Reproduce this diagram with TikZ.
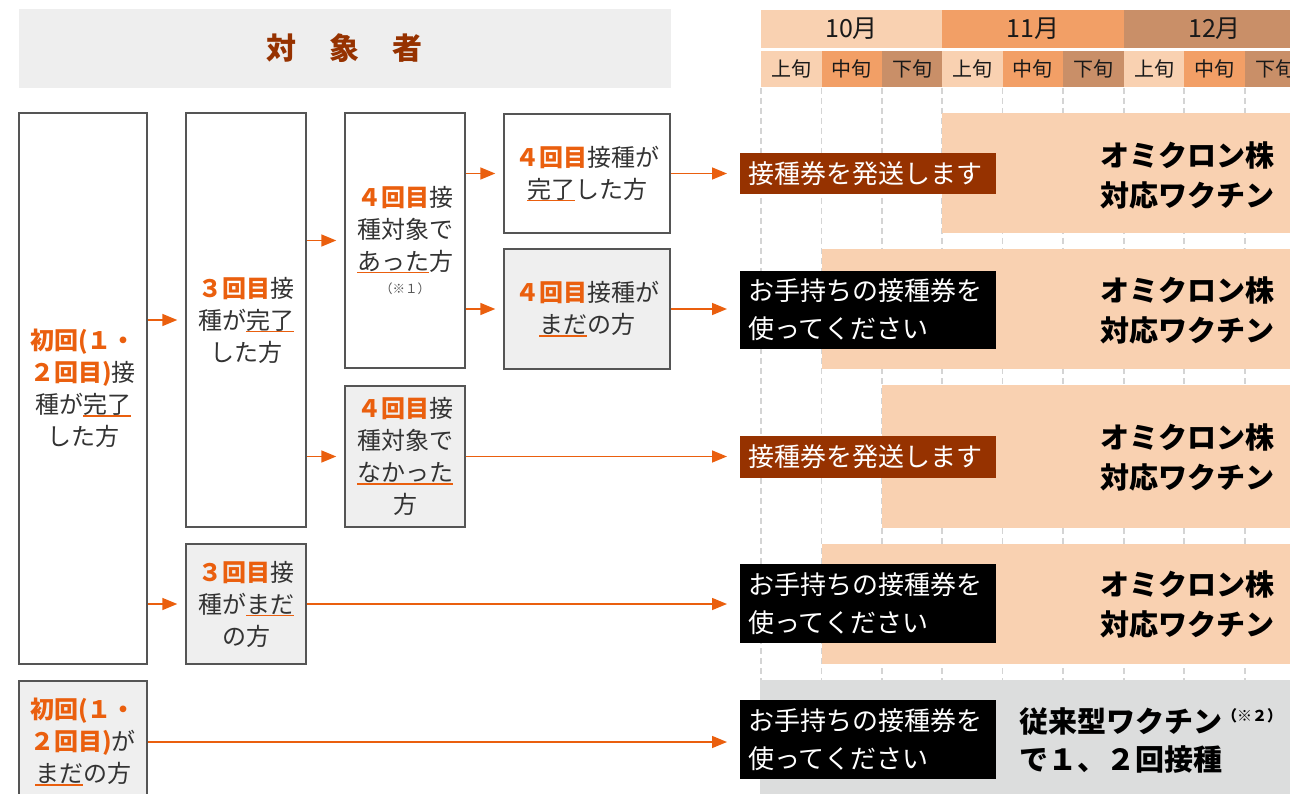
\documentclass[tikz,border=0pt]{standalone}
\usepackage{fontspec}
\setmainfont{Noto Sans CJK JP}
\usetikzlibrary{arrows.meta}
\definecolor{acc}{HTML}{EA5F0E}
\definecolor{peach}{HTML}{F9D1B1}
\definecolor{midor}{HTML}{F29F66}
\definecolor{dkor}{HTML}{C98F68}
\definecolor{brn}{HTML}{963200}
\definecolor{txt}{HTML}{333333}
\definecolor{bord}{HTML}{555555}
\definecolor{boxgray}{HTML}{EFEFEF}
\definecolor{hdgray}{HTML}{EEEEEE}
\definecolor{bargray}{HTML}{DCDDDD}
\definecolor{dashc}{HTML}{D4D4D4}
\newcommand\myul[1]{\leavevmode\setbox0\hbox{#1}\rlap{\textcolor{acc}{\rule[-3pt]{\wd0}{1.5pt}}}\box0}
\newcommand\hl[1]{\textcolor{acc}{\bfseries #1}}
\tikzset{
  box/.style={draw=bord, line width=1.4pt, fill=white, inner sep=0pt, align=center,
    text=txt, font=\fontsize{24}{32}\selectfont},
  gbox/.style={box, fill=boxgray},
  arr/.style={draw=acc, line width=1.5pt, -{Triangle[length=15pt,width=12pt]}},
  lab/.style={anchor=west, inner xsep=8pt, inner ysep=0pt, text=white, align=left,
    text width=240pt, font=\fontsize{26}{38}\selectfont},
  bartxt/.style={inner sep=0pt, text=black, font=\bfseries\fontsize{29}{40}\selectfont},
  month/.style={inner sep=0pt, text=black!90, font=\fontsize{25}{25}\selectfont},
  dek/.style={inner sep=0pt, text=black!90, font=\fontsize{20}{20}\selectfont},
  grid/.style={draw=dashc, line width=1.2pt, dash pattern=on 6pt off 4pt}
}
\begin{document}
\begin{tikzpicture}[x=1pt,y=-1pt]
\useasboundingbox (0,0) rectangle (1290,794);
% header left
\fill[hdgray] (19,9) rectangle (671,88);
\node[text=brn, font=\bfseries\fontsize{30}{30}\selectfont, inner sep=0pt] (title) at (344,48) {対\hspace{33pt}象\hspace{33pt}者};
% calendar header
\fill[peach] (761,10) rectangle (942,48);
\fill[midor] (942,10) rectangle (1124,48);
\fill[dkor] (1124,10) rectangle (1305,48);
\node[month] (m10) at (851.5,29) {10月};
\node[month] (m11) at (1033,29) {11月};
\node[month] (m12) at (1214.5,29) {12月};
\foreach \xa/\xb/\c/\t [count=\i] in {761/821.5/peach/上旬, 821.5/882/midor/中旬, 882/942/dkor/下旬,
  942/1002.5/peach/上旬, 1002.5/1063/midor/中旬, 1063/1124/dkor/下旬,
  1124/1184/peach/上旬, 1184/1245/midor/中旬, 1245/1305/dkor/下旬} {
  \fill[\c] (\xa,51) rectangle (\xb,87);
  \node[dek] (d\i) at ({(\xa+\xb)/2},69) {\t};
}
% dashed grid
\foreach \x in {761,821.5,882,942,1002.5,1063,1124,1184,1245} {
  \draw[grid] (\x,88) -- (\x,680);
}
% bars
\fill[peach] (942,113) rectangle (1290,233);
\fill[peach] (821.5,249) rectangle (1290,369);
\fill[peach] (882,385) rectangle (1290,528);
\fill[peach] (821.5,544) rectangle (1290,664);
\fill[bargray] (760,680) rectangle (1290,800);
% boxes
\node[box, minimum width=128pt, minimum height=551pt] (A) at (83,388.5)
  {\hl{初回(１・}\\\hl{２回目)}接\\種が\myul{完了}\\した方};
\node[box, minimum width=120pt, minimum height=414pt] (B) at (246,320)
  {\hl{３回目}接\\種が\myul{完了}\\した方};
\node[box, minimum width=120pt, minimum height=255pt] (C) at (405,240.5)
  {\hl{４回目}接\\種対象で\\\myul{あった}方\\[-9pt]{\fontsize{12.5}{14}\selectfont\color{bord}（※１）}};
\node[box, minimum width=166pt, minimum height=119pt] (D) at (587,173.5)
  {\hl{４回目}接種が\\\myul{完了}した方};
\node[gbox, minimum width=166pt, minimum height=120pt] (E) at (587,309)
  {\hl{４回目}接種が\\\myul{まだ}の方};
\node[gbox, minimum width=120pt, minimum height=141pt] (F) at (405,456.5)
  {\hl{４回目}接\\種対象で\\\myul{なかった}\\方};
\node[gbox, minimum width=120pt, minimum height=120pt] (G) at (246,604)
  {\hl{３回目}接\\種が\myul{まだ}\\の方};
\node[gbox, minimum width=128pt, minimum height=122pt] (H) at (83,742)
  {\hl{初回(１・}\\\hl{２回目)}が\\\myul{まだ}の方};
% labels
\node[lab, fill=brn, minimum height=41pt] (L1) at (740,173.5) {接種券を発送します};
\node[lab, fill=black, minimum height=78pt] (L2) at (740,310) {お手持ちの接種券を\\使ってください};
\node[lab, fill=brn, minimum height=42pt] (L3) at (740,457) {接種券を発送します};
\node[lab, fill=black, minimum height=79pt] (L4) at (740,603.5) {お手持ちの接種券を\\使ってください};
\node[lab, fill=black, minimum height=79pt] (L5) at (740,739.5) {お手持ちの接種券を\\使ってください};
% bar texts
\node[bartxt, anchor=east, align=right] (T1) at (1275,175) {オミクロン株\\対応ワクチン};
\node[bartxt, anchor=east, align=right] (T2) at (1275,310) {オミクロン株\\対応ワクチン};
\node[bartxt, anchor=east, align=right] (T3) at (1275,457) {オミクロン株\\対応ワクチン};
\node[bartxt, anchor=east, align=right] (T4) at (1275,604) {オミクロン株\\対応ワクチン};
\node[bartxt, anchor=west, align=left, font=\bfseries\fontsize{29}{38}\selectfont] (T5) at (1019,741)
  {従来型ワクチン\raisebox{11pt}{\fontsize{15}{15}\selectfont（※２）}\\で１、２回接種};
% arrows
\draw[arr, shorten >=8pt] (A.east |- B.west) -- (B.west);
\draw[arr, shorten >=8pt] (A.east |- G.west) -- (G.west);
\draw[arr, shorten >=8pt] (B.east |- C.west) -- (C.west);
\draw[arr, shorten >=8pt] (B.east |- F.west) -- (F.west);
\draw[arr, shorten >=8pt] (C.east |- D.west) -- (D.west);
\draw[arr, shorten >=8pt] (C.east |- E.west) -- (E.west);
\draw[arr, shorten >=13pt] (D.east) -- (D.east -| L1.west);
\draw[arr, shorten >=13pt] (E.east) -- (E.east -| L2.west);
\draw[arr, shorten >=13pt] (F.east) -- (F.east -| L3.west);
\draw[arr, shorten >=13pt] (G.east) -- (G.east -| L4.west);
\draw[arr, shorten >=13pt] (H.east) -- (H.east -| L5.west);
\end{tikzpicture}
\end{document}
